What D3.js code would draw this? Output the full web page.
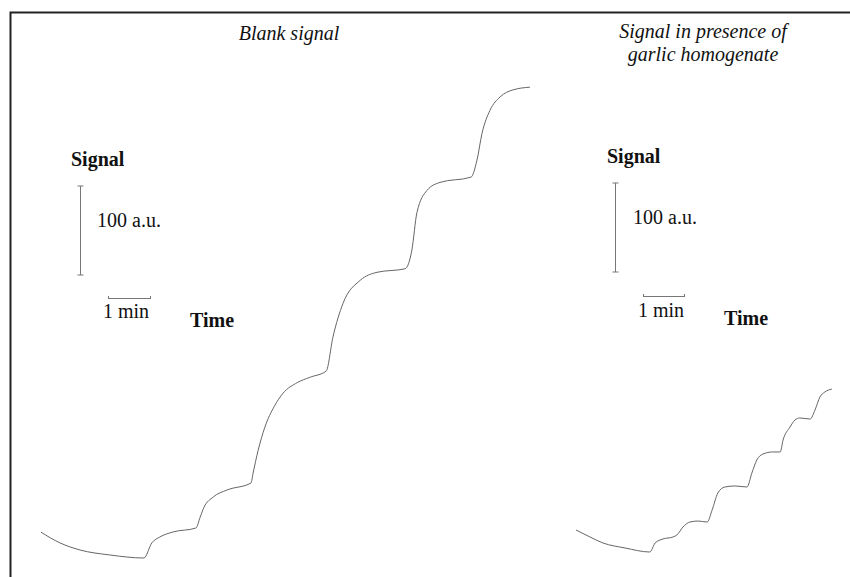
<!DOCTYPE html>
<html>
<head>
<meta charset="utf-8">
<script src="https://cdn.jsdelivr.net/npm/d3@7"></script>
<style>
    body { margin: 0; background: #fff; }
    svg text { font-family: "Liberation Serif", "Times New Roman", serif; fill: #111; }
</style>
</head>
<body>
<svg id="drawing_region"></svg>
<script>
// time in minutes, signal in a.u.
const blankTime = [0, 0.45, 0.93, 1.64, 2.45, 2.64, 2.83, 3.14, 3.69, 3.79, 3.88, 4.10, 4.43, 5.00,
    5.05, 5.17, 5.33, 5.55, 5.76, 6.10, 6.40, 6.79, 6.95, 7.19, 7.60, 8.00, 8.67,
    8.83, 8.95, 9.19, 9.50, 10.24, 10.38, 10.50, 10.69, 10.93, 11.24, 11.64];
const blankSignal = [29, 17, 9, 3.4, 0, 17, 23.6, 29.2, 33.7, 46, 57, 68.5, 76.4, 84.3,
    95.5, 121, 147, 170, 185, 197, 203, 210, 248, 286, 312, 321, 325,
    346, 388, 413, 422, 428, 447, 477, 503, 518, 526, 529];

const garlicTime = [0, 0.34, 0.66, 1.20, 1.80, 1.93, 2.12, 2.37, 2.46, 2.61, 2.78, 2.98, 3.20,
    3.32, 3.46, 3.63, 3.88, 4.17, 4.29, 4.41, 4.56, 4.80, 4.98, 5.05, 5.22, 5.34, 5.46, 5.71,
    5.83, 5.95, 6.07, 6.24];
const garlicSignal = [24.7, 16.9, 10.1, 4.5, 0, 10.1, 14.6, 16.9, 19.1, 28.1, 33.7, 34.8, 33.7,
    47.2, 66.3, 73.0, 74.2, 73.0, 88.8, 103.4, 110.1, 112.4, 112.4, 125.8, 140.4, 148.3, 150.6, 149.4,
    159.6, 174.2, 179.8, 183.1];

const panelTitles = [["Blank signal"], ["Signal in presence of", "garlic homogenate"]];
const scaleSignal = 100;   // a.u.
const scaleTime = 1;       // min

const svg = d3.select('#drawing_region')
    .attr('width', 850)
    .attr('height', 577);

// frame (left and top only, as in the scan)
svg.append('path')
    .attr('d', 'M10.5,577 L10.5,12.5 L850,12.5')
    .attr('fill', 'none')
    .attr('stroke', '#222')
    .attr('stroke-width', 2);

const panels = [
    { time: blankTime, signal: blankSignal, title: panelTitles[0],
      x0: 41, y0: 558, pxMin: 42, pxAu: 0.89, titleX: 289, titleY: 40,
      barX: 80, barTop: 186, minX: 108, minY: 298, sigX: 71, sigY: 166, auX: 97, auY: 227,
      minTextX: 103, minTextY: 318, timeX: 190, timeY: 327 },
    { time: garlicTime, signal: garlicSignal, title: panelTitles[1],
      x0: 576, y0: 552, pxMin: 41, pxAu: 0.89, titleX: 703, titleY: 38,
      barX: 615, barTop: 183, minX: 643, minY: 296, sigX: 607, sigY: 163, auX: 633, auY: 224,
      minTextX: 638, minTextY: 317, timeX: 724, timeY: 325 }
];

panels.forEach(p => {
    const maxT = d3.max(p.time), maxS = d3.max(p.signal);
    const xscale = d3.scaleLinear()
        .domain([0, maxT])
        .range([p.x0, p.x0 + maxT * p.pxMin]);
    const yscale = d3.scaleLinear()
        .domain([0, maxS])
        .range([p.y0, p.y0 - maxS * p.pxAu]);

    const pts = p.time.map((t, i) => [t, p.signal[i]]);
    const line = d3.line()
        .x(d => xscale(d[0]))
        .y(d => yscale(d[1]))
        .curve(d3.curveMonotoneX);

    svg.append('path')
        .datum(pts)
        .attr('d', line)
        .attr('fill', 'none')
        .attr('stroke', '#666')
        .attr('stroke-width', 1);

    // title
    const title = svg.append('text')
        .attr('x', p.titleX)
        .attr('y', p.titleY)
        .attr('text-anchor', 'middle')
        .style('font-style', 'italic')
        .style('font-size', '20px');
    p.title.forEach((s, i) => {
        title.append('tspan')
            .attr('x', p.titleX)
            .attr('dy', i === 0 ? 0 : 23)
            .text(s);
    });

    // signal scale bar: 100 a.u.
    const barLen = scaleSignal * p.pxAu;
    const bar = svg.append('g').attr('stroke', '#777').attr('stroke-width', 1);
    bar.append('line')
        .attr('x1', p.barX + 0.5).attr('x2', p.barX + 0.5)
        .attr('y1', p.barTop).attr('y2', p.barTop + barLen);
    [p.barTop, p.barTop + barLen].forEach(y => {
        bar.append('line')
            .attr('x1', p.barX - 2.5).attr('x2', p.barX + 3.5)
            .attr('y1', y).attr('y2', y);
    });

    // time scale bar: 1 min
    const minLen = scaleTime * p.pxMin;
    bar.append('line')
        .attr('x1', p.minX).attr('x2', p.minX + minLen)
        .attr('y1', p.minY + 0.5).attr('y2', p.minY + 0.5);
    [p.minX, p.minX + minLen].forEach(x => {
        bar.append('line')
            .attr('x1', x + 0.5).attr('x2', x + 0.5)
            .attr('y1', p.minY - 2).attr('y2', p.minY + 1);
    });

    svg.append('text')
        .attr('x', p.sigX).attr('y', p.sigY)
        .style('font-weight', 'bold').style('font-size', '20px')
        .text('Signal');
    svg.append('text')
        .attr('x', p.auX).attr('y', p.auY)
        .style('font-size', '20px')
        .text(`${scaleSignal} a.u.`);
    svg.append('text')
        .attr('x', p.minTextX).attr('y', p.minTextY)
        .style('font-size', '20px')
        .text(`${scaleTime} min`);
    svg.append('text')
        .attr('x', p.timeX).attr('y', p.timeY)
        .style('font-weight', 'bold').style('font-size', '20px')
        .text('Time');
});
</script>
</body>
</html>
